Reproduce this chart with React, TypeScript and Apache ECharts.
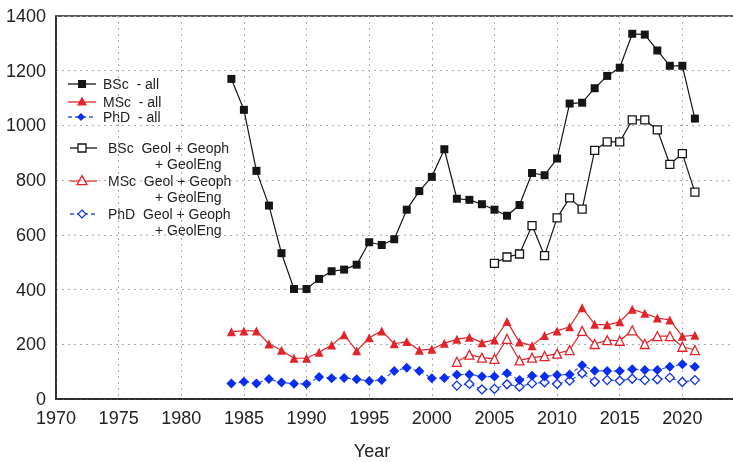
import React, { useEffect, useRef } from "react";
import * as echarts from "echarts";

const yearsAll = [1984, 1985, 1986, 1987, 1988, 1989, 1990, 1991, 1992, 1993, 1994, 1995, 1996, 1997, 1998, 1999, 2000, 2001, 2002, 2003, 2004, 2005, 2006, 2007, 2008, 2009, 2010, 2011, 2012, 2013, 2014, 2015, 2016, 2017, 2018, 2019, 2020, 2021];
const bscAll = [1170, 1057, 834, 707, 533, 402, 402, 439, 467, 473, 491, 573, 563, 584, 692, 760, 812, 913, 732, 728, 712, 692, 670, 709, 826, 818, 879, 1080, 1083, 1136, 1181, 1211, 1335, 1332, 1274, 1218, 1218, 1025];
const mscAll = [246, 249, 249, 201, 178, 149, 149, 171, 197, 235, 176, 224, 249, 202, 210, 178, 182, 204, 218, 226, 206, 216, 283, 208, 195, 232, 249, 264, 334, 273, 271, 282, 328, 313, 296, 289, 229, 233];
const phdAll = [57, 63, 57, 73, 60, 56, 55, 80, 76, 77, 72, 66, 69, 102, 114, 102, 76, 77, 89, 90, 82, 82, 94, 69, 85, 82, 88, 90, 123, 103, 102, 102, 109, 106, 106, 118, 127, 118];

const yearsBscGeol = [2005, 2006, 2007, 2008, 2009, 2010, 2011, 2012, 2013, 2014, 2015, 2016, 2017, 2018, 2019, 2020, 2021];
const bscGeol = [496, 519, 530, 634, 524, 662, 735, 694, 909, 940, 940, 1020, 1020, 984, 858, 897, 756];
const yearsGradGeol = [2002, 2003, 2004, 2005, 2006, 2007, 2008, 2009, 2010, 2011, 2012, 2013, 2014, 2015, 2016, 2017, 2018, 2019, 2020, 2021];
const mscGeol = [136, 162, 151, 147, 220, 141, 151, 157, 166, 179, 249, 201, 215, 213, 251, 201, 230, 230, 191, 179];
const phdGeol = [49, 55, 35, 37, 54, 45, 57, 61, 55, 67, 94, 63, 69, 67, 74, 69, 72, 78, 62, 69];

const legendLabels = ["BSc  - all", "MSc  - all", "PhD  - all", "BSc  Geol + Geoph", "MSc  Geol + Geoph", "PhD  Geol + Geoph"];
const legendSecond = "+ GeolEng";
const xTitle = "Year";

const BLACK = "#151515";
const RED = "#e2242a";
const BLUE = "#0a2df0";
const BLUE_LINE = "#2f5fd0";
const FONT = '"Liberation Sans", Arial, sans-serif';

const pairs = (xs: number[], ys: number[]) => xs.map((x, i) => [x, ys[i]]);

export default function App() {
  const ref = useRef<HTMLDivElement>(null);
  useEffect(() => {
    if (!ref.current) return;
    const chart = echarts.init(ref.current, null, { renderer: "svg" });

    const lf = `14px ${FONT}`;
    const tri = (cx: number, cy: number, s: number) => [[cx, cy - s * 0.6], [cx + s * 0.55, cy + s * 0.4], [cx - s * 0.55, cy + s * 0.4]];
    const dia = (cx: number, cy: number, s: number) => [[cx, cy - s / 2], [cx + s / 2, cy], [cx, cy + s / 2], [cx - s / 2, cy]];
    const rowsY = [84, 102, 117, 148, 181, 214];
    const graphic: any[] = [];
    const lineX = [[68, 96], [68, 96], [68, 96], [70, 97], [70, 97], [70, 97]];
    const lineCol = [BLACK, RED, BLUE_LINE, BLACK, RED, BLUE_LINE];
    rowsY.forEach((y, i) => {
      graphic.push({
        type: "line",
        shape: { x1: lineX[i][0], y1: y, x2: lineX[i][1], y2: y },
        style: { stroke: lineCol[i], lineWidth: 1.3, lineDash: i === 2 || i === 5 ? [4, 3] : null },
      });
    });
    graphic.push({ type: "rect", shape: { x: 78, y: rowsY[0] - 4, width: 8, height: 8 }, style: { fill: BLACK } });
    graphic.push({ type: "polygon", shape: { points: tri(82, rowsY[1], 9) }, style: { fill: RED } });
    graphic.push({ type: "polygon", shape: { points: dia(81, rowsY[2], 8) }, style: { fill: BLUE } });
    graphic.push({ type: "rect", shape: { x: 78, y: rowsY[3] - 4, width: 8, height: 8 }, style: { fill: "#fff", stroke: BLACK, lineWidth: 1.3 } });
    graphic.push({ type: "polygon", shape: { points: tri(82, rowsY[4], 9) }, style: { fill: "#fff", stroke: RED, lineWidth: 1.3 } });
    graphic.push({ type: "polygon", shape: { points: dia(82, rowsY[5], 8) }, style: { fill: "#fff", stroke: BLUE, lineWidth: 1.2 } });
    rowsY.forEach((y, i) => {
      graphic.push({
        type: "text",
        style: { text: legendLabels[i], x: i < 3 ? 103 : 108, y, font: lf, fill: "#222", verticalAlign: "middle" },
      });
      if (i >= 3) {
        graphic.push({
          type: "text",
          style: { text: legendSecond, x: 155, y: y + 16, font: lf, fill: "#222", verticalAlign: "middle" },
        });
      }
    });
    graphic.push({
      type: "text",
      style: { text: xTitle, x: 372, y: 451, font: `18px ${FONT}`, fill: "#222", align: "center", verticalAlign: "middle" },
    });

    const mk = (name: string, data: number[][], color: string, symbol: string, size: number, open: boolean, dashed: boolean, lineColor?: string) => ({
      name,
      type: "line",
      data,
      symbol,
      symbolSize: size,
      lineStyle: { color: lineColor || color, width: 1.2, type: dashed ? [4, 3] : "solid" },
      itemStyle: open ? { color: "#fff", borderColor: color, borderWidth: 1.3 } : { color, borderColor: color, borderWidth: 0 },
      z: open ? 3 : 4,
    });

    chart.setOption({
      animation: false,
      grid: { left: 56, right: -12, top: 16, bottom: 63, show: true, borderColor: "#222", borderWidth: 1.5, containLabel: false, outerBoundsMode: "none" },
      graphic,
      xAxis: {
        type: "value",
        min: 1970,
        max: 2025,
        interval: 5,
        axisLine: { show: true, lineStyle: { color: "#222", width: 1.5 } },
        axisTick: { show: false },
        axisLabel: { fontFamily: FONT, fontSize: 18, color: "#222", margin: 10, showMaxLabel: false, formatter: (v: number) => (v >= 2025 ? "" : String(v)) },
        splitLine: { show: true, lineStyle: { color: "#aaa", type: [2, 4], width: 1 } },
      },
      yAxis: {
        type: "value",
        min: 0,
        max: 1400,
        interval: 200,
        axisLine: { show: true, lineStyle: { color: "#222", width: 1.5 } },
        axisTick: { show: false },
        axisLabel: { fontFamily: FONT, fontSize: 18, color: "#222", margin: 10, formatter: (v: number) => String(v) },
        splitLine: { show: true, lineStyle: { color: "#aaa", type: [2, 4], width: 1 } },
      },
      series: [
        mk("BSc Geol", pairs(yearsBscGeol, bscGeol), BLACK, "rect", 8, true, false),
        mk("MSc Geol", pairs(yearsGradGeol, mscGeol), RED, "triangle", 9, true, false),
        mk("PhD Geol", pairs(yearsGradGeol, phdGeol), BLUE, "diamond", 9, true, true, BLUE_LINE),
        mk("BSc all", pairs(yearsAll, bscAll), BLACK, "rect", 8, false, false),
        mk("MSc all", pairs(yearsAll, mscAll), RED, "triangle", 9, false, false),
        mk("PhD all", pairs(yearsAll, phdAll), BLUE, "diamond", 10, false, true, BLUE_LINE),
      ],
    });
    return () => chart.dispose();
  }, []);
  return <div ref={ref} style={{ position: "fixed", left: 0, top: 0, width: 733, height: 462 }} />;
}
